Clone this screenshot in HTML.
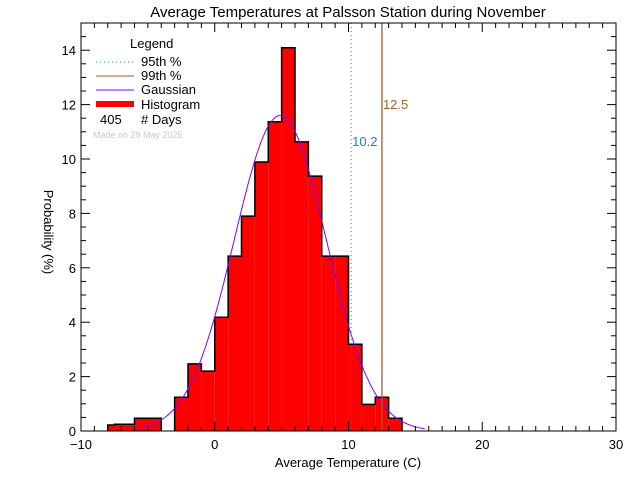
<!DOCTYPE html>
<html><head><meta charset="utf-8"><style>
body{margin:0;background:#fff;}
svg text{font-family:"Liberation Sans",sans-serif;}
</style></head><body>
<svg id="chart" width="640" height="480" xmlns="http://www.w3.org/2000/svg">
<rect width="640" height="480" fill="#fff"/>
<text x="348" y="17" font-size="15" text-anchor="middle">Average Temperatures at Palsson Station during November</text>
<g id="bars"></g>
<g id="gauss"></g>
<g id="pct"></g>
<g id="axes"></g>
<text x="348" y="467" font-size="13" text-anchor="middle">Average Temperature (C)</text>
<text transform="translate(44,232) rotate(90)" font-size="13" text-anchor="middle">Probability  (%)</text>
<g>
<text x="130" y="48" font-size="13">Legend</text>
<line x1="96" y1="62" x2="134" y2="62" stroke="#1e7fd8" stroke-dasharray="1,3"/>
<text x="141" y="66" font-size="13">95th %</text>
<line x1="96" y1="76" x2="134" y2="76" stroke="#a0602a"/>
<text x="141" y="80" font-size="13">99th %</text>
<line x1="96" y1="90" x2="134" y2="90" stroke="#8000ff"/>
<text x="141" y="94" font-size="13">Gaussian</text>
<rect x="96" y="101" width="38" height="6" fill="#ff0000"/>
<text x="141" y="109" font-size="13">Histogram</text>
<text x="100" y="124" font-size="13">405</text>
<text x="141" y="124" font-size="13"># Days</text>
<text x="93" y="138" font-size="9" fill="#c8c8c8">Made on 29 May 2025</text>
</g>
</svg>
<script>
const binLefts  = [-8,-7.5,-6,-3,-2,-1,0,1,2,3,4,5,6,7,8,9,10,11,12,13];
const binRights = [-7.5,-6,-4,-2,-1,0,1,2,3,4,5,6,7,8,9,10,11,12,13,14];
const binHeights= [0.22,0.25,0.47,1.24,2.47,2.2,4.18,6.43,7.9,9.89,11.37,14.09,10.63,9.37,6.43,6.43,3.19,0.98,1.24,0.47];
const gaussMean = [4.9];
const gaussSigma = [3.44];
const gaussPeak = [11.6];
const gaussRange = [-5.6, 15.7];
const pctValues = [10.2, 12.5];
const pctLabels = ["10.2","12.5"];
const xTicks = [-10,0,10,20,30];
const yTicks = [0,2,4,6,8,10,12,14];

const L=81,R=616,T=23,B=431,X0=-10,X1=30,Y0=0,Y1=15;
const sx=v=>L+(v-X0)/(X1-X0)*(R-L);
const sy=v=>B-(v-Y0)/(Y1-Y0)*(B-T);
const NS="http://www.w3.org/2000/svg";
function mk(tag,attrs,parent){const e=document.createElementNS(NS,tag);for(const k in attrs)e.setAttribute(k,attrs[k]);parent.appendChild(e);return e;}

const bars=document.getElementById('bars');
binHeights.forEach((h,i)=>{
  const r=mk('rect',{x:sx(binLefts[i]),y:sy(h),width:sx(binRights[i])-sx(binLefts[i]),height:sy(0)-sy(h),fill:'#ff0000'},bars);
  
  
});
// outline step
let d='';
binHeights.forEach((h,i)=>{
  const xl=sx(binLefts[i]),xr=sx(binRights[i]);
  const prevR=i>0?binRights[i-1]:null;
  if(i===0||prevR!==binLefts[i]) d+=`M${xl},${sy(0)} `; 
  d+=`L${xl},${sy(h)} L${xr},${sy(h)} `;
  const nextL=i<binHeights.length-1?binLefts[i+1]:null;
  if(nextL!==binRights[i]) d+=`L${xr},${sy(0)} `;
});
const outline=mk('path',{d:d,fill:'none',stroke:'#000','stroke-width':1.5},bars);



const g=document.getElementById('gauss');
let pts=[];
for(let k=0;k<=200;k++){const x=gaussRange[0]+(gaussRange[1]-gaussRange[0])*k/200;
  const y=gaussPeak[0]*Math.exp(-Math.pow(x-gaussMean[0],2)/(2*gaussSigma[0]*gaussSigma[0]));
  pts.push(sx(x).toFixed(1)+','+sy(y).toFixed(1));}
const gl=mk('polyline',{points:pts.join(' '),fill:'none',stroke:'#8000ff','stroke-width':1},g);



const p=document.getElementById('pct');
const l95=mk('line',{x1:sx(pctValues[0]),x2:sx(pctValues[0]),y1:T,y2:B,stroke:'#a0602a','stroke-dasharray':'1,3'},p);


const l99=mk('line',{x1:sx(pctValues[1]),x2:sx(pctValues[1]),y1:T,y2:B,stroke:'#a0602a','stroke-width':1.3},p);


const t95=mk('text',{x:sx(pctValues[0])+1,y:146,'font-size':13,fill:'#1e7fd8'},p);t95.textContent=pctLabels[0];


const t99=mk('text',{x:sx(pctValues[1])+1,y:109,'font-size':13,fill:'#a0602a'},p);t99.textContent=pctLabels[1];



const a=document.getElementById('axes');
const box=mk('rect',{x:L,y:T,width:R-L,height:B-T,fill:'none',stroke:'#000','stroke-width':1},a);


for(let v=X0;v<=X1;v+=1){const maj=xTicks.includes(v);const len=maj?9:5;
  mk('line',{x1:sx(v),x2:sx(v),y1:B,y2:B-len,stroke:'#000'},a);
  mk('line',{x1:sx(v),x2:sx(v),y1:T,y2:T+len,stroke:'#000'},a);}
xTicks.forEach(v=>{const t=mk('text',{x:sx(v),y:B+18,'font-size':13,'text-anchor':'middle'},a);t.textContent=String(v).replace('-','\u2212');
  
  });
for(let v=Y0;v<=Y1;v+=0.5){const maj=yTicks.includes(v);const len=maj?9:5;
  mk('line',{x1:L,x2:L+len,y1:sy(v),y2:sy(v),stroke:'#000'},a);
  mk('line',{x1:R,x2:R-len,y1:sy(v),y2:sy(v),stroke:'#000'},a);}
yTicks.forEach(v=>{const t=mk('text',{x:L-5,y:sy(v)+5,'font-size':13,'text-anchor':'end'},a);t.textContent=v;
  
  });
</script>
</body></html>
